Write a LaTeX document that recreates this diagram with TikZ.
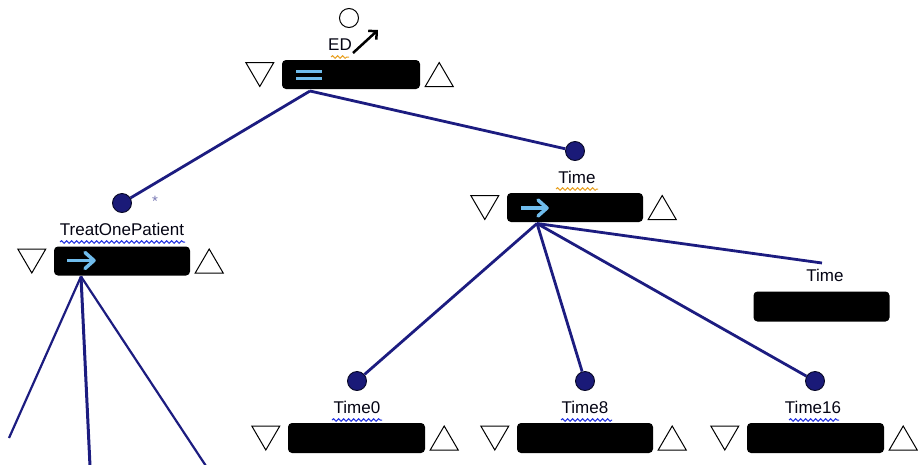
\documentclass[tikz,border=0pt]{standalone}
\usepackage{fontspec}
\setmainfont{Liberation Sans}
\usetikzlibrary{calc,decorations.pathmorphing,arrows.meta}
\definecolor{navy}{HTML}{1C1C80}
\definecolor{dotfill}{HTML}{1A1A78}
\definecolor{lblue}{HTML}{70BCEC}
\definecolor{wavor}{HTML}{E8A020}
\definecolor{wavbl}{HTML}{2030E0}
\tikzset{
  blk/.style={fill=black, rounded corners=4pt, minimum width=136pt, minimum height=29pt, inner sep=0pt},
  dot/.style={circle, fill=dotfill, draw=black!70!navy, line width=0.9pt, minimum size=19pt, inner sep=0pt},
  odot/.style={circle, draw=black, line width=1pt, minimum size=19pt, inner sep=0pt},
  lbl/.style={font=\fontsize{17}{20}\selectfont, text=black!85!navy, inner sep=0pt},
  conn/.style={draw=navy, line width=2.8pt},
  tri/.style={draw=black, line width=1pt, line join=miter},
  wav/.style={decorate, decoration={snake, amplitude=1.3pt, segment length=5pt}, line width=1pt},
  sym/.style={draw=lblue, line width=3.5pt}
}
\newcommand\boxtris[1]{%
  \draw[tri] ($(#1.west)+(-36,-12)$) -- ++(28,0) -- ++(-14,24) -- cycle;
  \draw[tri] ($(#1.east)+(5,12)$) -- ++(28,0) -- ++(-14,-24) -- cycle;
}
\begin{document}
\begin{tikzpicture}[x=1pt,y=-1pt]
\useasboundingbox (0,0) rectangle (918,464);
% boxes
\node[blk, minimum width=138pt] (root) at (351,74.5) {};
\node[blk] (top) at (122,261) {};
\node[blk] (time) at (575,207.5) {};
\node[blk, minimum height=30pt] (timer) at (821.5,306.5) {};
\node[blk, minimum width=137pt, minimum height=30pt] (t0) at (356.5,438) {};
\node[blk, minimum height=30pt] (t8) at (585,438) {};
\node[blk, minimum width=137pt, minimum height=30pt] (t16) at (815.5,438) {};
\boxtris{root}
\boxtris{top}
\boxtris{time}
\boxtris{t0}
\boxtris{t8}
\boxtris{t16}
% symbols in boxes
\draw[sym] (296,71.5) -- (322,71.5);
\draw[sym] (296,78.5) -- (322,78.5);
\draw[lblue, line width=3.5pt] (67,260.5) -- (94,260.5);
\draw[lblue, line width=3.5pt, line cap=round, line join=round] (85,252.5) -- (94,260.5) -- (85,268.5);
\draw[lblue, line width=3.5pt] (521,208) -- (547,208);
\draw[lblue, line width=3.5pt, line cap=round, line join=round] (538,200) -- (547,208) -- (538,216);
% circles
\node[odot] (rc) at (349,18) {};
\node[dot] (topc) at (122,203) {};
\node[dot] (timec) at (575,151) {};
\node[dot] (t0c) at (357,381) {};
\node[dot] (t8c) at (585,381) {};
\node[dot] (t16c) at (815,381) {};
% labels
\node[lbl] (edl) at (340,45) {ED};
\node[lbl] (topl) at (122,229) {TreatOnePatient};
\node[lbl] (timel) at (577,177) {Time};
\node[lbl] (timerl) at (825,275) {Time};
\node[lbl] (t0l) at (357,407) {Time0};
\node[lbl] (t8l) at (585,407) {Time8};
\node[lbl] (t16l) at (813,407) {Time16};
\node[font=\fontsize{15}{16}\selectfont, text=navy!60!white, inner sep=0pt] (ast) at (155,201) {*};
% wavy underlines
\draw[wav, wavor] (331,57) -- (349,57);
\draw[wav, wavbl] (60,242) -- (185,242);
\draw[wav, wavor] (556,189) -- (598,189);
\draw[wav, wavbl] (332,420) -- (382,420);
\draw[wav, wavbl] (561,420) -- (612,420);
\draw[wav, wavbl] (789,420) -- (839,420);
% ED arrow
\coordinate (ea) at (353,53);
\coordinate (eb) at (378,30);
\draw[black, line width=2.5pt, -{Straight Barb[length=6pt,width=12pt]}] (ea) -- (eb);
% connectors
\coordinate (rapex) at (310,91);
\coordinate (tapex) at (537,223.5);
\coordinate (papex) at (81,276.5);
\coordinate (tend) at (822,263);
\coordinate (p1) at (9,438);
\coordinate (p2) at (90,466);
\coordinate (p3) at (206,466);
\draw[conn] (rapex) -- (topc);
\draw[conn] (rapex) -- (timec);
\draw[conn] (tapex) -- (t0c);
\draw[conn] (tapex) -- (t8c);
\draw[conn] (tapex) -- (t16c);
\draw[conn] (tapex) -- (tend);
\draw[conn, line width=2.2pt] (papex) -- (p1);
\draw[conn, line width=3pt] (papex) -- (p2);
\draw[conn, line width=2.2pt] (papex) -- (p3);
\end{tikzpicture}
\end{document}
